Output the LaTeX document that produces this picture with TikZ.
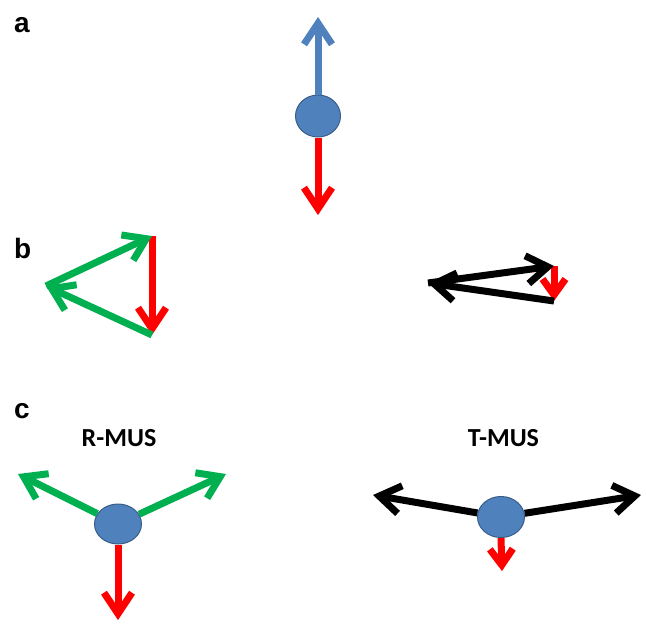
\documentclass[tikz,border=0pt]{standalone}
\usepackage{fontspec}
\setmainfont{Carlito}
\newfontfamily\labfont{Liberation Sans}
\usetikzlibrary{arrows.meta,shapes.geometric}
\definecolor{ballfill}{HTML}{4F81BD}
\definecolor{balledge}{HTML}{385D8A}
\definecolor{fgreen}{HTML}{00B050}
\definecolor{fred}{HTML}{FF0000}
\tikzset{
  ball/.style={ellipse,fill=ballfill,draw=balledge,line width=1pt,inner sep=0pt},
  force/.style={line width=7pt,-{Straight Barb[length=21pt,width=28pt]}},
  smallforce/.style={line width=7pt,-{Straight Barb[length=16pt,width=23pt]}},
  panellab/.style={font=\labfont\bfseries\fontsize{28}{32}\selectfont,anchor=base west,inner sep=0pt},
  title/.style={font=\bfseries\fontsize{26}{30}\selectfont,anchor=base,inner sep=0pt}
}
\begin{document}
\begin{tikzpicture}[x=1pt,y=-1pt]
\useasboundingbox (0,0) rectangle (646,627);
% labels
\node[panellab] (la) at (14,32) {a};
\node[panellab] (lb) at (14,258) {b};
\node[panellab] (lc) at (14,418) {c};
% panel a
\node[ball,minimum width=45pt,minimum height=42pt] (A) at (318,116) {};
\coordinate (Aup) at (318,17);
\coordinate (Adn) at (318,215);
\draw[force,draw=ballfill] (A.north) -- (Aup);
\draw[force,draw=fred] (A.south) -- (Adn);
% panel b left
\coordinate (BLt) at (152,236);
\coordinate (BLl) at (46,286);
\coordinate (BLb) at (152,335);
\draw[force,draw=fred] (BLt) -- (BLb);
\draw[force,draw=fgreen] (BLl) -- (BLt);
\draw[force,draw=fgreen] (BLb) -- (BLl);
% panel b right
\coordinate (BRt) at (554,266);
\coordinate (BRl) at (428,283);
\coordinate (BRb) at (554,301);
\draw[smallforce,draw=fred] (BRt) -- (BRb);
\draw[force,draw=black] (BRl) -- (BRt);
\draw[force,draw=black] (BRb) -- (BRl);
% panel c left
\node[title] (tr) at (119,446) {R-MUS};
\node[ball,minimum width=47pt,minimum height=40pt] (C1) at (118,524) {};
\coordinate (C1l) at (18,474);
\coordinate (C1r) at (226,474);
\coordinate (C1d) at (118,620);
\draw[force,draw=fgreen] (C1) -- (C1l);
\draw[force,draw=fgreen] (C1) -- (C1r);
\draw[force,draw=fred] (C1.south) -- (C1d);
% panel c right
\node[title] (tt) at (503.5,446) {T-MUS};
\node[ball,minimum width=47pt,minimum height=41pt] (C2) at (501,517) {};
\coordinate (C2l) at (373,495);
\coordinate (C2r) at (641,495);
\coordinate (C2d) at (502,571);
\draw[force,draw=black] (C2) -- (C2l);
\draw[force,draw=black] (C2) -- (C2r);
\draw[smallforce,draw=fred] (C2.south) -- (C2d);
\end{tikzpicture}
\end{document}
